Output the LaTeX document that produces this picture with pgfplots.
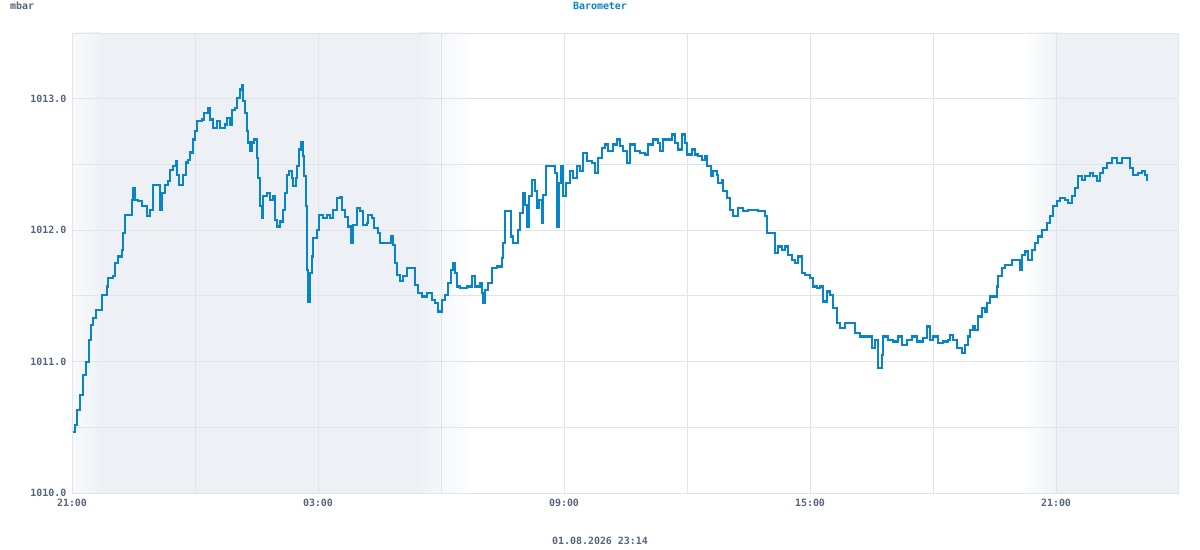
\documentclass[border=0pt]{standalone}
\usepackage{fontspec}
\setmainfont{Liberation Sans}
\newfontfamily\mono{DejaVu Sans Mono}
\usepackage{pgfplots}
\pgfplotsset{compat=1.18}

\definecolor{linecol}{RGB}{8,132,200}
\definecolor{txtcol}{RGB}{86,101,127}
\definecolor{gridcol}{RGB}{224,229,237}
\definecolor{nightcol}{RGB}{237,241,246}

\begin{document}
\begin{tikzpicture}[x=1bp,y=1bp]
\path (0,0) rectangle (1200,550);
\begin{axis}[
    at={(72bp,57bp)}, anchor=south west,
    scale only axis,
    width=1106bp, height=460bp,
    set layers=standard,
    xmin=0, xmax=26.976,
    ymin=1010, ymax=1013.5,
    xtick={0,6,12,18,24},
    xticklabels={21:00,03:00,09:00,15:00,21:00},
    minor xtick={3,9,15,21},
    ytick={1010,1011,1012,1013},
    yticklabels={1010.0,1011.0,1012.0,1013.0},
    minor ytick={1010.5,1011.5,1012.5},
    grid=both,
    grid style={gridcol, line width=0.9bp},
    minor grid style={gridcol, line width=0.9bp},
    major tick length=0pt, minor tick length=0pt,
    axis line style={gridcol, line width=0.9bp},
    ticklabel style={font=\mono\bfseries\fontsize{10}{12}\selectfont, text=txtcol},
    xticklabel style={yshift=-3bp},
    yticklabel style={xshift=-2bp},
    clip=true,
    night/.style={draw=none, on layer=axis background, forget plot},
]
% night shading, behind the grid
\addplot[night, left color=nightcol!40!white, right color=nightcol]
    coordinates {(0,1010) (0.70,1010) (0.70,1013.5) (0,1013.5)} -- cycle;
\addplot[night, fill=nightcol]
    coordinates {(0.69,1010) (8.45,1010) (8.45,1013.5) (0.69,1013.5)} -- cycle;
\addplot[night, left color=nightcol, right color=white]
    coordinates {(8.44,1010) (9.75,1010) (9.75,1013.5) (8.44,1013.5)} -- cycle;
\addplot[night, left color=white, right color=nightcol]
    coordinates {(23.15,1010) (24.1,1010) (24.1,1013.5) (23.15,1013.5)} -- cycle;
\addplot[night, fill=nightcol]
    coordinates {(24.09,1010) (27,1010) (27,1013.5) (24.09,1013.5)} -- cycle;

\addplot[const plot, color=linecol, line width=2.2bp, line join=miter] coordinates {
(0.024,1010.465) (0.073,1010.518) (0.122,1010.632) (0.195,1010.747) (0.268,1010.899)
(0.341,1010.998) (0.415,1011.166) (0.463,1011.280) (0.520,1011.331) (0.585,1011.394)
(0.724,1011.508) (0.780,1011.508) (0.846,1011.571) (0.885,1011.638) (1.007,1011.648)
(1.049,1011.752) (1.129,1011.800) (1.212,1011.851) (1.251,1011.980) (1.293,1012.118)
(1.415,1012.118) (1.456,1012.232) (1.495,1012.323) (1.537,1012.232) (1.617,1012.219)
(1.700,1012.181) (1.822,1012.105) (1.902,1012.156) (1.983,1012.346) (2.105,1012.346)
(2.146,1012.156) (2.188,1012.285) (2.268,1012.346) (2.349,1012.371) (2.390,1012.460)
(2.471,1012.485) (2.537,1012.524) (2.568,1012.422) (2.617,1012.346) (2.700,1012.422)
(2.780,1012.514) (2.837,1012.536) (2.878,1012.590) (2.944,1012.689) (3.000,1012.752)
(3.056,1012.828) (3.163,1012.841) (3.220,1012.894) (3.324,1012.930) (3.366,1012.841)
(3.432,1012.780) (3.529,1012.828) (3.610,1012.778) (3.732,1012.803) (3.773,1012.854)
(3.854,1012.803) (3.895,1012.917) (3.976,1012.930) (4.017,1013.006) (4.098,1013.070)
(4.139,1013.100) (4.178,1012.980) (4.220,1012.894) (4.261,1012.752) (4.300,1012.666)
(4.341,1012.600) (4.383,1012.666) (4.439,1012.689) (4.505,1012.549) (4.544,1012.399)
(4.585,1012.181) (4.627,1012.095) (4.666,1012.257) (4.749,1012.285) (4.829,1012.232)
(4.910,1012.257) (4.951,1012.079) (5.007,1012.028) (5.073,1012.066) (5.154,1012.156)
(5.195,1012.285) (5.237,1012.422) (5.300,1012.447) (5.359,1012.399) (5.398,1012.333)
(5.463,1012.399) (5.495,1012.485) (5.544,1012.613) (5.578,1012.666) (5.627,1012.562)
(5.666,1012.409) (5.700,1012.181) (5.724,1011.851) (5.732,1011.699) (5.763,1011.455)
(5.805,1011.676) (5.846,1011.800) (5.885,1011.942) (5.968,1012.003) (6.032,1012.118)
(6.129,1012.095) (6.212,1012.118) (6.293,1012.095) (6.373,1012.156) (6.456,1012.247)
(6.537,1012.255) (6.578,1012.156) (6.659,1012.102) (6.739,1012.028) (6.798,1011.904)
(6.861,1012.041) (6.944,1012.169) (7.024,1012.143) (7.105,1012.041) (7.188,1012.054)
(7.227,1012.118) (7.310,1012.092) (7.366,1012.016) (7.471,1011.978) (7.512,1011.904)
(7.715,1011.904) (7.773,1011.952) (7.837,1011.889) (7.878,1011.750) (7.920,1011.661)
(8.000,1011.610) (8.080,1011.648) (8.163,1011.712) (8.324,1011.712) (8.366,1011.584)
(8.446,1011.521) (8.529,1011.495) (8.651,1011.521) (8.773,1011.470) (8.854,1011.445)
(8.934,1011.381) (9.017,1011.470) (9.098,1011.508) (9.178,1011.597) (9.237,1011.699)
(9.285,1011.750) (9.341,1011.674) (9.383,1011.571) (9.463,1011.559) (9.627,1011.571)
(9.749,1011.648) (9.829,1011.571) (9.951,1011.597) (9.993,1011.521) (10.032,1011.445)
(10.073,1011.546) (10.154,1011.597) (10.237,1011.712) (10.359,1011.724) (10.480,1011.788)
(10.520,1011.902) (10.561,1012.143) (10.641,1012.143) (10.700,1011.952) (10.763,1011.902)
(10.885,1012.003) (10.927,1012.130) (10.993,1012.283) (11.049,1012.194) (11.090,1012.028)
(11.154,1012.257) (11.212,1012.384) (11.293,1012.295) (11.334,1012.169) (11.398,1012.232)
(11.456,1012.054) (11.495,1012.270) (11.561,1012.485) (11.700,1012.485) (11.780,1012.435)
(11.822,1012.028) (11.885,1012.359) (11.920,1012.485) (11.983,1012.257) (12.049,1012.359)
(12.146,1012.447) (12.227,1012.397) (12.310,1012.485) (12.390,1012.447) (12.456,1012.587)
(12.554,1012.523) (12.676,1012.511) (12.756,1012.435) (12.837,1012.549) (12.920,1012.626)
(13.000,1012.651) (13.080,1012.600) (13.202,1012.651) (13.285,1012.689) (13.366,1012.638)
(13.446,1012.600) (13.529,1012.511) (13.610,1012.651) (13.732,1012.600) (13.854,1012.587)
(13.976,1012.575) (14.056,1012.651) (14.178,1012.689) (14.300,1012.664) (14.341,1012.600)
(14.422,1012.689) (14.544,1012.689) (14.627,1012.727) (14.707,1012.664) (14.788,1012.613)
(14.871,1012.727) (14.951,1012.664) (15.007,1012.575) (15.115,1012.613) (15.195,1012.575)
(15.276,1012.562) (15.359,1012.536) (15.439,1012.562) (15.495,1012.485) (15.578,1012.409)
(15.641,1012.447) (15.724,1012.422) (15.763,1012.359) (15.846,1012.384) (15.885,1012.295)
(15.968,1012.245) (16.049,1012.156) (16.129,1012.105) (16.251,1012.169) (16.373,1012.143)
(16.495,1012.156) (16.617,1012.156) (16.739,1012.143) (16.822,1012.143) (16.902,1012.105)
(16.944,1011.978) (17.105,1011.978) (17.146,1011.826) (17.227,1011.876) (17.310,1011.851)
(17.390,1011.876) (17.471,1011.813) (17.554,1011.775) (17.634,1011.750) (17.715,1011.800)
(17.798,1011.674) (17.878,1011.661) (18.000,1011.636) (18.080,1011.571) (18.163,1011.559)
(18.244,1011.571) (18.310,1011.457) (18.407,1011.533) (18.488,1011.508) (18.568,1011.407)
(18.651,1011.293) (18.732,1011.255) (18.854,1011.293) (18.976,1011.293) (19.098,1011.216)
(19.220,1011.191) (19.383,1011.191) (19.505,1011.102) (19.585,1011.166) (19.666,1010.950)
(19.749,1011.051) (19.788,1011.191) (19.910,1011.166) (20.032,1011.153) (20.154,1011.191)
(20.237,1011.127) (20.359,1011.166) (20.480,1011.191) (20.602,1011.153) (20.763,1011.178)
(20.846,1011.267) (20.927,1011.166) (21.007,1011.191) (21.129,1011.140) (21.251,1011.153)
(21.373,1011.166) (21.415,1011.204) (21.495,1011.166) (21.578,1011.102) (21.700,1011.064)
(21.780,1011.127) (21.861,1011.191) (21.902,1011.242) (21.983,1011.267) (22.024,1011.242)
(22.105,1011.343) (22.188,1011.407) (22.268,1011.381) (22.310,1011.445) (22.390,1011.495)
(22.471,1011.495) (22.554,1011.571) (22.593,1011.648) (22.676,1011.712) (22.756,1011.737)
(22.837,1011.737) (22.920,1011.775) (23.041,1011.775) (23.122,1011.699) (23.163,1011.813)
(23.244,1011.838) (23.324,1011.775) (23.407,1011.851) (23.488,1011.902) (23.568,1011.952)
(23.651,1012.003) (23.773,1012.054) (23.854,1012.105) (23.934,1012.181) (24.017,1012.219)
(24.098,1012.245) (24.220,1012.232) (24.300,1012.207) (24.383,1012.257) (24.463,1012.321)
(24.544,1012.409) (24.627,1012.384) (24.707,1012.409) (24.829,1012.435) (24.910,1012.409)
(24.993,1012.371) (25.073,1012.435) (25.154,1012.473) (25.237,1012.511) (25.359,1012.549)
(25.480,1012.511) (25.602,1012.549) (25.724,1012.549) (25.805,1012.473) (25.885,1012.422)
(26.000,1012.435) (26.090,1012.447) (26.171,1012.422) (26.212,1012.371)
};
\end{axis}
\node[anchor=base west, text=txtcol, font=\mono\bfseries\fontsize{10}{12}\selectfont, inner sep=0pt] at (10,540) {mbar};
\node[anchor=base, text=linecol, font=\mono\bfseries\fontsize{10}{12}\selectfont, inner sep=0pt] at (600,540) {Barometer};
\node[anchor=base, text=txtcol, font=\mono\bfseries\fontsize{10}{12}\selectfont, inner sep=0pt] at (600,5) {01.08.2026 23:14};
\end{tikzpicture}
\end{document}
